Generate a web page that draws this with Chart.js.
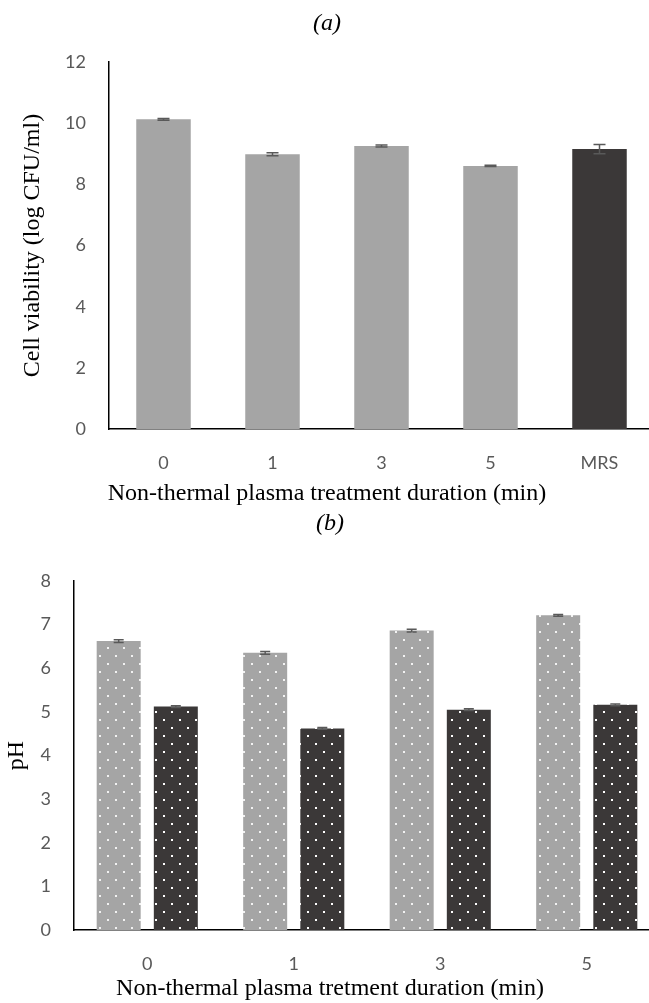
<!DOCTYPE html>
<html>
<head>
<meta charset="utf-8">
<script src="https://cdn.jsdelivr.net/npm/chart.js@4.4.1/dist/chart.umd.min.js"></script>
<style>
  html, body { margin: 0; padding: 0; background: #fff; overflow: hidden; }
  #wrap { position: relative; width: 649px; height: 1003px; overflow: hidden; }
  canvas { position: absolute; left: 0; }
  #chartA { top: 0; }
  #chartB { top: 508px; }
</style>
</head>
<body>
<div id="wrap">
  <canvas id="chartA" width="654" height="508"></canvas>
  <canvas id="chartB" width="660" height="495"></canvas>
</div>
<script>
// data (a): viability
const categoriesA = ["0", "1", "3", "5", "MRS"];
const viability = [10.12, 8.98, 9.25, 8.6, 9.15];
const viabilityErr = [0.03, 0.05, 0.03, 0.02, 0.15];
const ticksA = [0, 2, 4, 6, 8, 10, 12];

// data (b): pH
const categoriesB = ["0", "1", "3", "5"];
const phLight = [6.62, 6.35, 6.86, 7.21];
const phDark = [5.12, 4.62, 5.05, 5.16];
const phLightErr = [0.03, 0.03, 0.03, 0.02];
const phDarkErr = [0.02, 0.02, 0.02, 0.02];
const ticksB = [0, 1, 2, 3, 4, 5, 6, 7, 8];

const LIGHT = "#a5a5a5";
const DARK = "#3b3838";
const tickFont = { family: "Lato, 'Open Sans', sans-serif", size: 18 };
const serif = "'Liberation Serif', 'DejaVu Serif', serif";

// dotted fill like the original
function dots(bg, dot) {
  const c = document.createElement("canvas");
  c.width = 16;
  c.height = 16;
  const g = c.getContext("2d");
  g.fillStyle = bg;
  g.fillRect(0, 0, 16, 16);
  g.fillStyle = dot;
  g.fillRect(3, 3, 2, 2);
  g.fillRect(11, 11, 2, 2);
  return g.createPattern(c, "repeat");
}

// error bars drawn with the chart's own y scale
const errorBars = {
  id: "errorBars",
  afterDatasetsDraw(chart) {
    const ctx = chart.ctx;
    const y = chart.scales.y;
    chart.data.datasets.forEach((ds, i) => {
      if (!ds.errors) return;
      const meta = chart.getDatasetMeta(i);
      meta.data.forEach((bar, j) => {
        const v = ds.data[j];
        const e = ds.errors[j];
        const top = y.getPixelForValue(v + e);
        const bot = y.getPixelForValue(v - e);
        const half = ds.capWidth / 2;
        ctx.save();
        ctx.strokeStyle = "#595959";
        ctx.lineWidth = 1.5;
        ctx.beginPath();
        ctx.moveTo(bar.x, top);
        ctx.lineTo(bar.x, bot);
        ctx.moveTo(bar.x - half, top);
        ctx.lineTo(bar.x + half, top);
        ctx.moveTo(bar.x - half, bot);
        ctx.lineTo(bar.x + half, bot);
        ctx.stroke();
        ctx.restore();
      });
    });
  },
};

function axisOptions(ticks, yTitle, yWidth, yTitlePad, xHeight, xPad) {
  return {
    x: {
      grid: { display: false, drawTicks: false },
      border: { display: true, color: "#000", width: 1.5 },
      ticks: { color: "#595959", font: tickFont, padding: xPad, maxRotation: 0 },
      afterFit: (s) => { s.height = xHeight; },
    },
    y: {
      min: ticks[0],
      max: ticks[ticks.length - 1],
      afterBuildTicks: (s) => { s.ticks = ticks.map((v) => ({ value: v })); },
      grid: { display: false, drawTicks: false },
      border: { display: true, color: "#000", width: 1.5 },
      ticks: { color: "#595959", font: tickFont, padding: 23 },
      title: {
        display: true,
        text: yTitle,
        color: "#000",
        font: { family: serif, size: 24 },
        padding: { top: yTitlePad, bottom: 0 },
      },
      afterFit: (s) => { s.width = yWidth; },
    },
  };
}

new Chart(document.getElementById("chartA"), {
  type: "bar",
  data: {
    labels: categoriesA,
    datasets: [
      {
        data: viability,
        errors: viabilityErr,
        capWidth: 12,
        backgroundColor: [LIGHT, LIGHT, LIGHT, LIGHT, DARK],
        barPercentage: 0.5,
        categoryPercentage: 1,
      },
    ],
  },
  options: {
    responsive: false,
    animation: false,
    devicePixelRatio: 1,
    layout: { padding: 0 },
    plugins: {
      legend: { display: false },
      tooltip: { enabled: false },
      title: {
        display: true,
        text: "(a)",
        color: "#000",
        font: { family: serif, size: 24, style: "italic", weight: "normal" },
        padding: { top: 9, bottom: 24 },
      },
      subtitle: {
        display: true,
        position: "bottom",
        text: "Non-thermal plasma treatment duration (min)",
        color: "#000",
        font: { family: serif, size: 24 },
        padding: { top: 0, bottom: 0 },
      },
    },
    scales: axisOptions(ticksA, "Cell viability (log CFU/ml)", 109, 18, 50, 23),
  },
  plugins: [errorBars],
});

new Chart(document.getElementById("chartB"), {
  type: "bar",
  data: {
    labels: categoriesB,
    datasets: [
      {
        data: phLight,
        errors: phLightErr,
        capWidth: 10,
        backgroundColor: dots(LIGHT, "#f2f2f2"),
        barPercentage: 0.77,
        categoryPercentage: 0.78,
      },
      {
        data: phDark,
        errors: phDarkErr,
        capWidth: 10,
        backgroundColor: dots(DARK, "#ffffff"),
        barPercentage: 0.77,
        categoryPercentage: 0.78,
      },
    ],
  },
  options: {
    responsive: false,
    animation: false,
    devicePixelRatio: 1,
    layout: { padding: 0 },
    plugins: {
      legend: { display: false },
      tooltip: { enabled: false },
      title: {
        display: true,
        text: "(b)",
        color: "#000",
        font: { family: serif, size: 24, style: "italic", weight: "normal" },
        padding: { top: 1, bottom: 43 },
      },
      subtitle: {
        display: true,
        position: "bottom",
        text: "Non-thermal plasma tretment duration (min)",
        color: "#000",
        font: { family: serif, size: 24 },
        padding: { top: 0, bottom: 0 },
      },
    },
    scales: axisOptions(ticksB, "pH", 74, 2, 44, 23),
  },
  plugins: [errorBars],
});
</script>
</body>
</html>
